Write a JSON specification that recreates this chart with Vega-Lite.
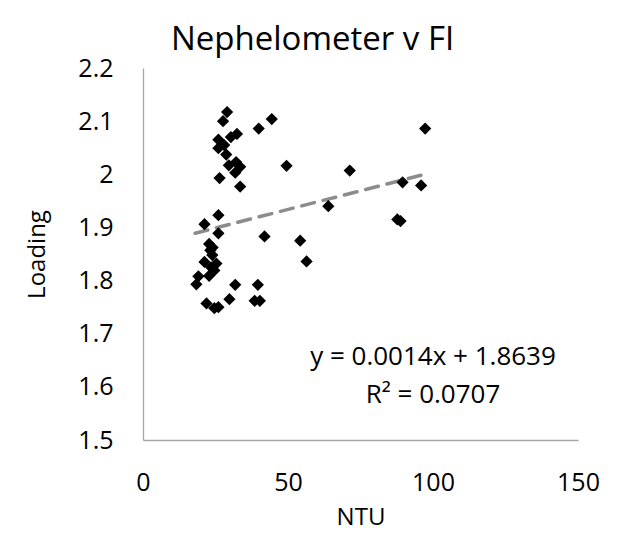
{
  "$schema": "https://vega.github.io/schema/vega-lite/v6.json",
  "width": 435,
  "height": 372,
  "autosize": "none",
  "padding": {"left": 143, "top": 68, "right": 44, "bottom": 93},
  "background": "white",
  "config": {
    "view": {"stroke": null},
    "font": "Open Sans"
  },
  "title": {
    "text": "Nephelometer v FI",
    "fontSize": 33,
    "fontWeight": "normal",
    "color": "#000000",
    "font": "Open Sans",
    "anchor": "middle",
    "offset": -1,
    "dx": -48
  },
  "datasets": {
    "points": [
      {"ntu": 29.0, "loading": 2.117},
      {"ntu": 27.6, "loading": 2.100},
      {"ntu": 44.4, "loading": 2.104},
      {"ntu": 39.9, "loading": 2.086},
      {"ntu": 97.3, "loading": 2.086},
      {"ntu": 32.4, "loading": 2.076},
      {"ntu": 30.3, "loading": 2.070},
      {"ntu": 26.0, "loading": 2.065},
      {"ntu": 26.0, "loading": 2.049},
      {"ntu": 28.0, "loading": 2.055},
      {"ntu": 28.7, "loading": 2.037},
      {"ntu": 29.6, "loading": 2.017},
      {"ntu": 32.1, "loading": 2.023},
      {"ntu": 33.5, "loading": 2.014},
      {"ntu": 31.8, "loading": 2.003},
      {"ntu": 49.5, "loading": 2.016},
      {"ntu": 71.3, "loading": 2.007},
      {"ntu": 26.4, "loading": 1.993},
      {"ntu": 33.5, "loading": 1.977},
      {"ntu": 89.5, "loading": 1.985},
      {"ntu": 95.9, "loading": 1.979},
      {"ntu": 63.9, "loading": 1.940},
      {"ntu": 26.0, "loading": 1.923},
      {"ntu": 87.7, "loading": 1.915},
      {"ntu": 88.8, "loading": 1.912},
      {"ntu": 21.2, "loading": 1.906},
      {"ntu": 26.0, "loading": 1.889},
      {"ntu": 41.9, "loading": 1.883},
      {"ntu": 54.2, "loading": 1.875},
      {"ntu": 56.4, "loading": 1.836},
      {"ntu": 22.8, "loading": 1.869},
      {"ntu": 23.2, "loading": 1.857},
      {"ntu": 23.9, "loading": 1.848},
      {"ntu": 21.2, "loading": 1.835},
      {"ntu": 25.3, "loading": 1.832},
      {"ntu": 24.6, "loading": 1.819},
      {"ntu": 22.8, "loading": 1.809},
      {"ntu": 19.1, "loading": 1.808},
      {"ntu": 18.4, "loading": 1.793},
      {"ntu": 31.8, "loading": 1.792},
      {"ntu": 39.6, "loading": 1.792},
      {"ntu": 29.8, "loading": 1.765},
      {"ntu": 21.9, "loading": 1.757},
      {"ntu": 38.5, "loading": 1.762},
      {"ntu": 40.3, "loading": 1.762},
      {"ntu": 24.6, "loading": 1.748},
      {"ntu": 26.0, "loading": 1.750},
      {"ntu": 24.0, "loading": 1.862},
      {"ntu": 23.5, "loading": 1.825}
    ],
    "trend": [
      {"ntu": 18.0, "loading": 1.8891},
      {"ntu": 97.5, "loading": 2.0004}
    ],
    "labels": [
      {"ntu": 100, "loading": 1.656, "text": "y = 0.0014x + 1.8639"},
      {"ntu": 100, "loading": 1.584, "text": "R² = 0.0707"}
    ]
  },
  "layer": [
    {
      "data": {"name": "trend"},
      "mark": {"type": "line", "color": "#8c8c8c", "strokeWidth": 3.5, "strokeDash": [13, 9], "strokeCap": "round"},
      "encoding": {
        "x": {
          "field": "ntu", "type": "quantitative",
          "scale": {"domain": [0, 150], "nice": false},
          "axis": {
            "title": "NTU", "titleFontSize": 24, "titleFontWeight": "normal", "titleColor": "#000000", "titlePadding": 10,
            "values": [0, 50, 100, 150], "labelFontSize": 25, "labelColor": "#000000", "labelPadding": 30,
            "ticks": false, "grid": false, "domainColor": "#a6a6a6", "domainWidth": 1.3, "labelFlush": false
          }
        },
        "y": {
          "field": "loading", "type": "quantitative",
          "scale": {"domain": [1.5, 2.2], "nice": false, "zero": false},
          "axis": {
            "title": "Loading", "titleFontSize": 24, "titleFontWeight": "normal", "titleColor": "#000000", "titlePadding": 28,
            "values": [1.5, 1.6, 1.7, 1.8, 1.9, 2.0, 2.1, 2.2], "format": "~g",
            "labelFontSize": 25, "labelColor": "#000000", "labelPadding": 30,
            "ticks": false, "grid": false, "domainColor": "#a6a6a6", "domainWidth": 1.3, "labelFlush": false
          }
        }
      }
    },
    {
      "data": {"name": "points"},
      "mark": {"type": "point", "shape": "diamond", "filled": true, "color": "#000000", "opacity": 1, "size": 150},
      "encoding": {
        "x": {"field": "ntu", "type": "quantitative"},
        "y": {"field": "loading", "type": "quantitative"}
      }
    },
    {
      "data": {"name": "labels"},
      "mark": {"type": "text", "fontSize": 26, "color": "#000000", "align": "center", "baseline": "middle", "font": "Open Sans"},
      "encoding": {
        "x": {"field": "ntu", "type": "quantitative"},
        "y": {"field": "loading", "type": "quantitative"},
        "text": {"field": "text"}
      }
    }
  ]
}
